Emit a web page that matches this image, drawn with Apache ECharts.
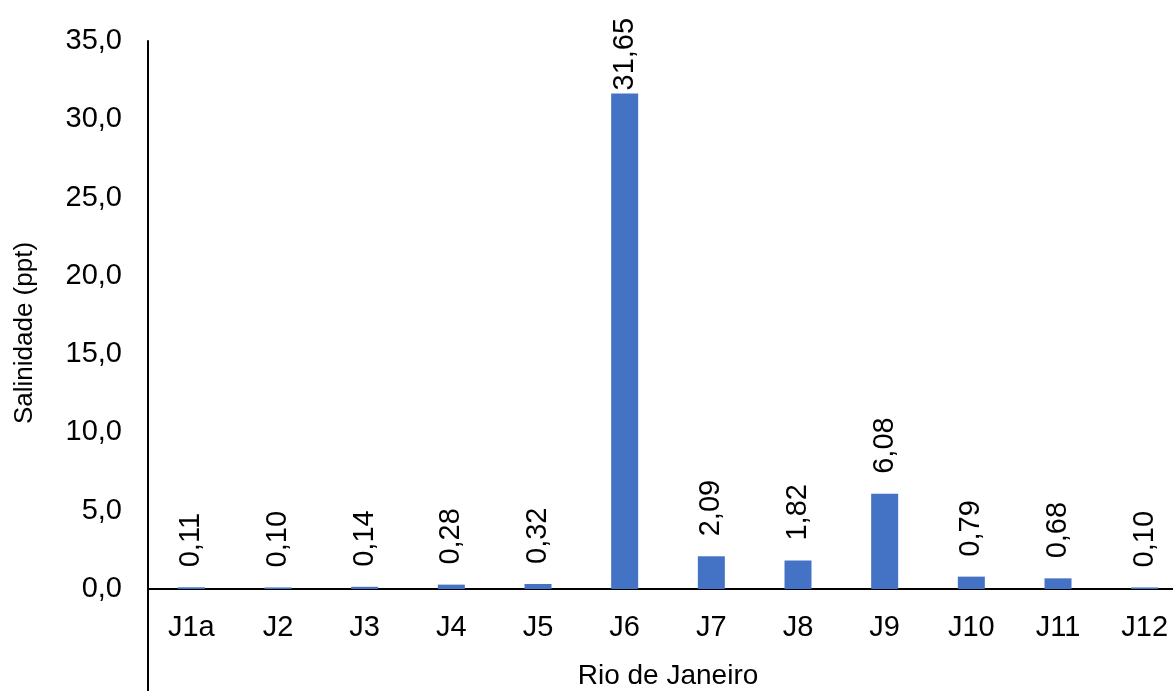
<!DOCTYPE html>
<html>
<head>
<meta charset="utf-8">
<script src="https://cdn.jsdelivr.net/npm/echarts@6/dist/echarts.min.js"></script>
<style>
html,body{margin:0;padding:0;background:#fff;}
#chart{width:1173px;height:691px;}
</style>
</head>
<body>
<div id="chart"></div>
<script>
const categories = ['J1a','J2','J3','J4','J5','J6','J7','J8','J9','J10','J11','J12'];
const salinity = [0.11, 0.10, 0.14, 0.28, 0.32, 31.65, 2.09, 1.82, 6.08, 0.79, 0.68, 0.10];
const yMin = 0, yMax = 35, yStep = 5;
const xName = 'Rio de Janeiro';
const yName = 'Salinidade (ppt)';

const fmt = (v, d) => v.toFixed(d).replace('.', ',');
const maxVal = Math.max(...salinity);

const chart = echarts.init(document.getElementById('chart'));
const font = 'Liberation Sans, Arial, sans-serif';
chart.setOption({
  animation: false,
  grid: {left: 148, right: -15, top: 41, bottom: 102, containLabel: false, outerBoundsMode: 'none'},
  xAxis: {
    type: 'category',
    data: categories,
    name: xName,
    nameLocation: 'middle',
    nameGap: 73,
    nameTextStyle: {fontFamily: font, fontSize: 28, color: '#000'},
    axisLine: {lineStyle: {color: '#000', width: 2}},
    axisTick: {show: false},
    axisLabel: {fontFamily: font, fontSize: 29, color: '#000', margin: 24}
  },
  yAxis: {
    type: 'value',
    min: yMin, max: yMax, interval: yStep,
    name: yName,
    nameLocation: 'middle',
    nameGap: 110,
    nameTextStyle: {fontFamily: font, fontSize: 26, color: '#000', padding: [0, 36, 0, 0]},
    axisLine: {show: true, lineStyle: {color: '#000', width: 2}},
    axisTick: {show: false},
    splitLine: {show: false},
    axisLabel: {fontFamily: font, fontSize: 29, color: '#000', margin: 26,
      formatter: v => fmt(v, 1)}
  },
  series: [{
    type: 'bar',
    barWidth: 27,
    itemStyle: {color: '#4472C4'},
    data: salinity.map(v => v === maxVal ? {value: v, label: {distance: 3}} : v),
    label: {
      show: true,
      position: 'top',
      rotate: 90,
      align: 'left',
      verticalAlign: 'middle',
      distance: 20,
      fontFamily: font,
      fontSize: 29,
      color: '#000',
      formatter: p => fmt(p.value, 2)
    }
  }]
});
const p0 = chart.convertToPixel({gridIndex: 0}, [0, 0]);
const gridLeft = chart.getModel().getComponent('grid', 0).coordinateSystem.getRect().x;
chart.setOption({
  graphic: [{
    type: 'line',
    shape: {x1: gridLeft, y1: p0[1], x2: gridLeft, y2: 691},
    style: {stroke: '#000', lineWidth: 2}
  }]
});
</script>
</body>
</html>
